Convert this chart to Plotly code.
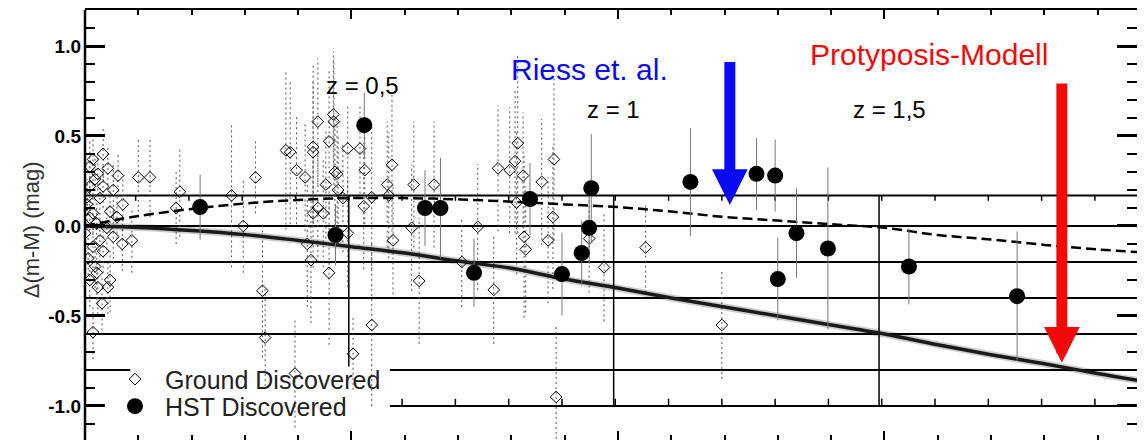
import plotly.graph_objects as go

# Ground discovered supernovae: redshift, residual, error
gd_z = [0.034, 0.015, 0.043, 0.062, 0.009, 0.024, 0.053, 0.071, 0.009, 0.028,
        0.047, 0.015, 0.004, 0.060, 0.022, 0.009, 0.041, 0.053, 0.088, 0.028,
        0.015, 0.034, 0.006, 0.019, 0.022, 0.009, 0.047, 0.043, 0.024, 0.032,
        0.015, 0.000, 0.004, 0.034, 0.019, 0.070, 0.100, 0.122,
        0.178, 0.171, 0.275, 0.297, 0.320, 0.333, 0.338, 0.377, 0.385, 0.397,
        0.413, 0.428, 0.428, 0.437, 0.466, 0.467, 0.458, 0.452, 0.469, 0.473,
        0.475, 0.484, 0.428, 0.437, 0.447, 0.417, 0.424, 0.458, 0.493, 0.394,
        0.516, 0.525, 0.523, 0.538, 0.493, 0.503, 0.538, 0.567, 0.576, 0.570,
        0.578, 0.613, 0.617, 0.627, 0.655, 0.707, 0.737, 0.767, 0.775, 0.797,
        0.807, 0.812, 0.822, 0.824, 0.827, 0.810, 0.857, 0.880, 0.878, 0.869,
        0.884, 0.946, 0.974, 1.052, 1.195]
gd_dm = [0.40, 0.37, 0.32, 0.28, 0.33, 0.29, 0.20, 0.12, 0.22, 0.155,
         0.08, 0.07, 0.12, 0.05, 0.015, 0.045, -0.01, -0.06, -0.08, -0.08,
         -0.115, -0.14, -0.18, -0.225, -0.26, -0.30, -0.30, -0.34, -0.34, -0.43,
         -0.59, -0.04, 0.16, 0.22, 0.26, -0.10, 0.27, 0.27,
         0.19, 0.10, 0.17, 0.00, 0.27, -0.36, -0.62, 0.42, 0.41, 0.31,
         0.27, 0.44, 0.41, 0.58, 0.62, 0.58, 0.47, 0.23, 0.30, 0.29,
         0.20, 0.155, 0.07, 0.10, 0.07, -0.10, -0.19, -0.26, 0.43, -0.82,
         0.43, 0.31, 0.11, 0.16, -0.04, -0.71, -0.55, 0.23, 0.34, 0.17,
         -0.08, -0.01, 0.23, -0.305, 0.23, -0.20, -0.005, -0.355, 0.32, 0.31,
         0.36, 0.46, 0.28, -0.06, -0.13, 0.13, 0.245, 0.37, 0.05, -0.08,
         -0.95, -0.07, -0.23, -0.12, -0.55]
gd_err = [0.15, 0.15, 0.12, 0.12, 0.15, 0.12, 0.15, 0.15, 0.12, 0.12,
          0.12, 0.12, 0.12, 0.12, 0.12, 0.10, 0.12, 0.15, 0.18, 0.12,
          0.12, 0.12, 0.12, 0.12, 0.15, 0.15, 0.18, 0.15, 0.15, 0.15,
          0.15, 0.10, 0.10, 0.12, 0.12, 0.15, 0.22, 0.22,
          0.25, 0.2, 0.4, 0.26, 0.2, 0.37, 0.27, 0.44, 0.4, 0.3,
          0.3, 0.45, 0.4, 0.35, 0.35, 0.35, 0.4, 0.3, 0.3, 0.3,
          0.3, 0.3, 0.3, 0.3, 0.3, 0.35, 0.35, 0.4, 0.25, 0.3,
          0.25, 0.3, 0.35, 0.4, 0.3, 0.2, 0.45, 0.35, 0.4, 0.35,
          0.3, 0.35, 0.35, 0.35, 0.35, 0.25, 0.35, 0.3, 0.35, 0.35,
          0.4, 0.5, 0.35, 0.45, 0.35, 0.4, 0.35, 0.45, 0.4, 0.35,
          0.4, 0.3, 0.3, 0.25, 0.3]

# HST discovered supernovae
hst_z = [0.216, 0.470, 0.524, 0.638, 0.667, 0.730, 0.835, 0.895, 0.932, 0.946,
         0.950, 1.136, 1.260, 1.295, 1.335, 1.300, 1.394, 1.546, 1.749]
hst_dm = [0.105, -0.05, 0.56, 0.10, 0.10, -0.26, 0.15, -0.267, -0.15, -0.01,
          0.21, 0.245, 0.29, 0.28, -0.04, -0.295, -0.125, -0.225, -0.39]
hst_err = [0.18, 0.17, 0.18, 0.21, 0.28, 0.19, 0.2, 0.23, 0.18, 0.2,
           0.3, 0.3, 0.2, 0.2, 0.25, 0.23, 0.45, 0.21, 0.36]

# model curves
model_z = [0.0, 0.05, 0.1, 0.2, 0.3, 0.4, 0.5, 0.6, 0.7, 0.8, 0.9, 1.0,
           1.1, 1.2, 1.3, 1.4, 1.5, 1.6, 1.7, 1.8, 1.9, 2.0]
riess_dm = [0.0, 0.03, 0.055, 0.095, 0.125, 0.145, 0.155, 0.155, 0.148, 0.135,
            0.12, 0.105, 0.08, 0.05, 0.03, 0.01, -0.01, -0.05, -0.075, -0.105,
            -0.13, -0.15]
proty_dm = [0.0, -0.003, -0.008, -0.025, -0.048, -0.08, -0.115, -0.15, -0.195,
            -0.235, -0.295, -0.345, -0.4, -0.45, -0.5, -0.55, -0.6, -0.66,
            -0.715, -0.765, -0.82, -0.87]

# overlaid frame lines from the composed figure
guide_levels = [0.17, 0.0, -0.2, -0.4, -0.6]
partial_guides = [(-0.8, 0.0, 0.085), (-0.8, 0.572, 2.0), (-1.0, 0.572, 2.0)]
divider_z = [0.495, 0.992, 1.49]
divider_bottom = [-0.78, -1.0, -1.0]
inner_ticks_top = [0.1, 0.2, 0.3, 0.4, 0.5, 0.6, 0.7, 0.8, 0.9, 1.0,
                   1.1, 1.2, 1.3, 1.4, 1.5, 1.6, 1.7, 1.8, 1.9]
inner_ticks_bottom = [0.6, 0.7, 0.8, 0.9, 1.0, 1.1, 1.2, 1.3, 1.4, 1.5,
                      1.6, 1.7, 1.8, 1.9]

SANS = "Liberation Sans, Arial, sans-serif"

fig = go.Figure()

# dotted error bars of ground points
ex, ey = [], []
for z, m, e in zip(gd_z, gd_dm, gd_err):
    ex += [z, z, None]
    ey += [m - e, m + e, None]
fig.add_trace(go.Scatter(x=ex, y=ey, mode="lines", showlegend=False,
                         hoverinfo="skip",
                         line=dict(color="#555555", width=1, dash="2px,3px")))

# solid model (blurred look)
fig.add_trace(go.Scatter(x=model_z, y=proty_dm, mode="lines", showlegend=False,
                         line=dict(color="rgba(0,0,0,0.2)", width=7, shape="spline")))
fig.add_trace(go.Scatter(x=model_z, y=proty_dm, mode="lines", showlegend=False,
                         line=dict(color="#1a1a1a", width=3.5, shape="spline")))
# dashed model
fig.add_trace(go.Scatter(x=model_z, y=riess_dm, mode="lines", showlegend=False,
                         line=dict(color="black", width=2.5, dash="10px,5px",
                                   shape="spline")))

fig.add_trace(go.Scatter(
    x=gd_z, y=gd_dm, mode="markers", name="Ground Discovered", legend="legend",
    marker=dict(symbol="diamond-open", size=9, color="black",
                line=dict(width=1, color="black")),
))
fig.add_trace(go.Scatter(
    x=hst_z, y=hst_dm, mode="markers", name="HST Discovered", legend="legend2",
    marker=dict(symbol="circle", size=16, color="black"),
    error_y=dict(type="data", array=hst_err, color="#777777", thickness=1, width=0),
))

line_style = dict(color="black", width=2)
for lev in guide_levels:
    fig.add_shape(type="line", x0=0, x1=2.0, y0=lev, y1=lev, line=line_style, layer="below")
for lev, a, b in partial_guides:
    fig.add_shape(type="line", x0=a, x1=b, y0=lev, y1=lev, line=line_style, layer="below")
for z, bot in zip(divider_z, divider_bottom):
    fig.add_shape(type="line", x0=z, x1=z, y0=0.17, y1=bot,
                  line=dict(color="black", width=1.5), layer="below")
for z in inner_ticks_top:
    fig.add_shape(type="line", x0=z - 0.005, x1=z - 0.005, y0=0.17, y1=0.14,
                  line=dict(color="black", width=1.5), layer="below")
for z in inner_ticks_bottom:
    fig.add_shape(type="line", x0=z - 0.005, x1=z - 0.005, y0=-1.0, y1=-0.96,
                  line=dict(color="black", width=1.5), layer="below")
# left axis line (right side of the frame lies outside the picture)
fig.add_shape(type="line", xref="paper", yref="paper", x0=0, x1=0, y0=0, y1=1,
              line=dict(color="black", width=2.5))

# labels
for txt, x, y in [("z = 0,5", 0.52, 0.78), ("z = 1", 0.992, 0.645),
                  ("z = 1,5", 1.51, 0.645)]:
    fig.add_annotation(x=x, y=y, text=txt, showarrow=False,
                       font=dict(family=SANS, size=24, color="black"))
fig.add_annotation(x=0.947, y=0.867, text="Riess et. al.", showarrow=False,
                   font=dict(family=SANS, size=30, color="#0a0af0"))
fig.add_annotation(x=1.583, y=0.955, text="Protyposis-Modell", showarrow=False,
                   font=dict(family=SANS, size=30, color="#f00a0a"))
# y axis title
fig.add_annotation(xref="paper", yref="y", x=-0.0507, y=-0.02, xanchor="center",
                   text="Δ(m-M) (mag)", textangle=-90, showarrow=False,
                   font=dict(family=SANS, size=22, color="#333"))

# arrows
fig.add_annotation(x=1.21, y=0.117, ax=1.21, ay=0.92, axref="x", ayref="y",
                   text="", showarrow=True, arrowhead=2, arrowsize=0.65,
                   arrowwidth=11, arrowcolor="#0a0af0", standoff=0)
fig.add_annotation(x=1.833, y=-0.76, ax=1.833, ay=0.80, axref="x", ayref="y",
                   text="", showarrow=True, arrowhead=2, arrowsize=0.65,
                   arrowwidth=11, arrowcolor="#f00a0a", standoff=0)

legend_common = dict(xanchor="left", yanchor="middle", bgcolor="rgba(0,0,0,0)",
                     font=dict(family=SANS, size=25, color="#222"), itemwidth=50)
fig.update_layout(
    width=1129, height=432,
    margin=dict(l=77, r=0, t=2, b=0),
    paper_bgcolor="white", plot_bgcolor="white",
    showlegend=True,
    legend=dict(x=0.019, y=0.141, **legend_common),
    legend2=dict(x=0.019, y=0.078, **legend_common),
    xaxis=dict(range=[0, 1.974], showgrid=False, zeroline=False, automargin=False,
               showticklabels=False, tickvals=[0.5, 1.0, 1.5],
               ticks="inside", ticklen=9, tickwidth=2, tickcolor="black",
               minor=dict(dtick=0.1, ticks="inside", ticklen=5, tickwidth=2,
                          tickcolor="black", showgrid=False),
               showline=True, linecolor="black", linewidth=2, mirror="allticks"),
    yaxis=dict(range=[-1.189, 1.2], showgrid=False, zeroline=False, automargin=False,
               tickvals=[-1.0, -0.5, 0.0, 0.5, 1.0],
               ticktext=["-1.0", "-0.5", "0.0", "0.5", "1.0"],
               ticks="inside", ticklen=20, tickwidth=2.5, tickcolor="black",
               ticklabelstandoff=3,
               tickfont=dict(family=SANS, size=19, color="black", weight="bold"),
               minor=dict(dtick=0.1, ticks="inside", ticklen=10, tickwidth=2,
                          tickcolor="black", showgrid=False),
               showline=False, mirror="allticks"),
)

fig.write_html("out.html")
